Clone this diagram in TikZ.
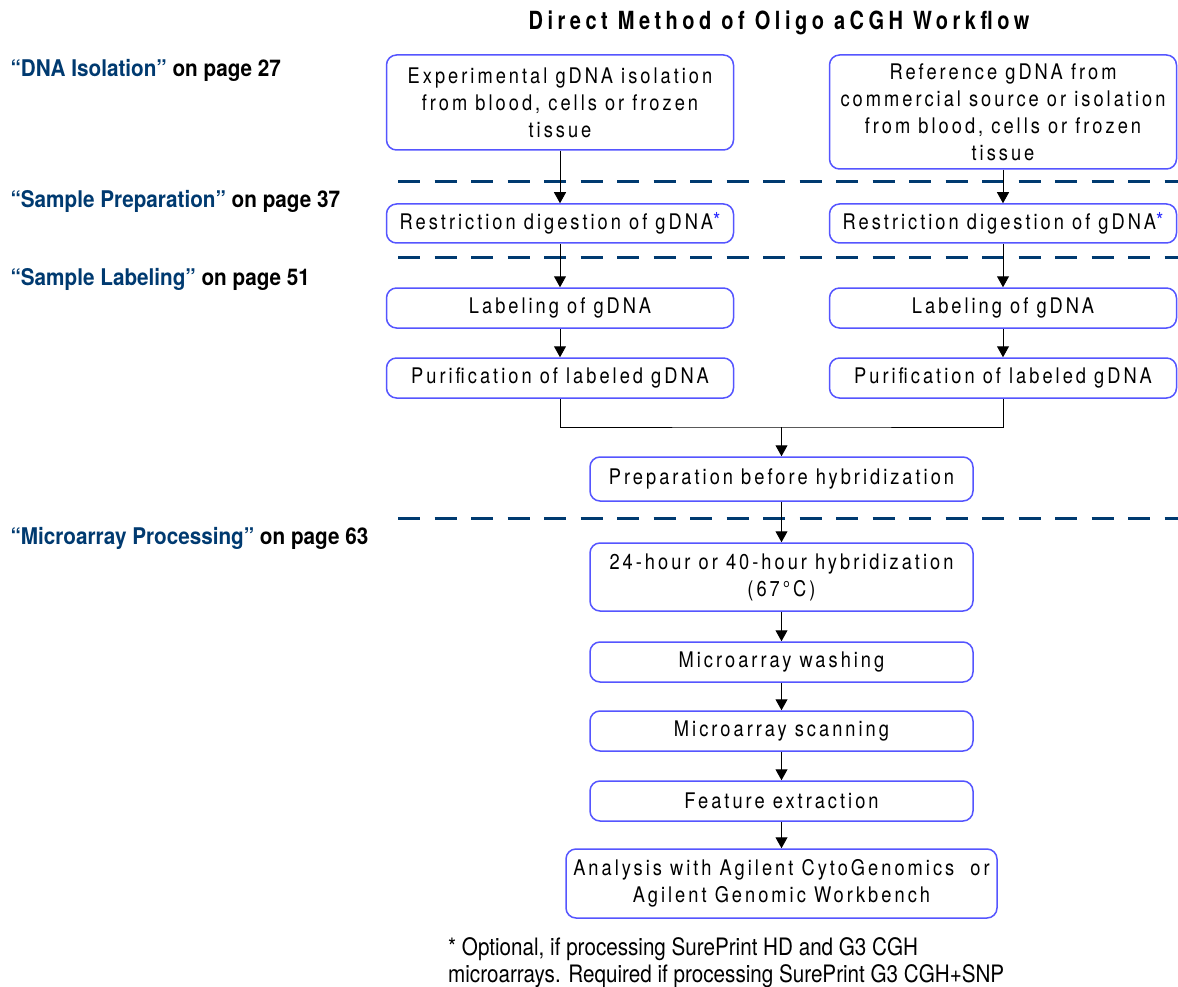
\documentclass[tikz,border=0pt]{standalone}
\usepackage{fontspec}
\usepackage{xcolor}
\usetikzlibrary{arrows.meta}

\setmainfont{TeX Gyre Heros}
\newfontfamily\boxfont{TeX Gyre Heros}[FakeStretch=0.85,LetterSpace=14]
\newfontfamily\headfont{TeX Gyre Heros}[FakeStretch=0.8,LetterSpace=18]
\newfontfamily\pagefont{TeX Gyre Heros}[FakeStretch=0.9]
\newfontfamily\notefont{TeX Gyre Heros}[FakeStretch=0.86]

\definecolor{navy}{RGB}{0,58,112}
\definecolor{edgeblue}{RGB}{85,85,255}
\definecolor{starblue}{RGB}{40,40,255}

\newcommand{\optmark}{\textcolor{starblue}{\raisebox{1pt}{\fontsize{22}{22}\selectfont *}}}

\begin{document}
\begin{tikzpicture}[x=1pt,y=-1pt,>={Triangle[length=11pt,width=12pt]},
    box/.style={draw=edgeblue,line width=1.5pt,rounded corners=10pt,align=center,
      inner sep=0pt,minimum height=40pt,font=\boxfont\fontsize{21.5}{27}\selectfont},
    side/.style={box,minimum width=347pt},
    mid/.style={box,minimum width=383pt},
    sep/.style={draw=navy,line width=3pt,dash pattern=on 22pt off 14.5pt},
    pageref/.style={anchor=base west,font=\pagefont\bfseries\fontsize{23}{26}\selectfont},
    flow/.style={->,line width=1pt}]
        \useasboundingbox (0,0) rectangle (1178,987);

        % title
        \node[anchor=base,font=\headfont\bfseries\fontsize{25}{28}\selectfont] (title) at (779,30)
          {Direct Method of Oligo aCGH Workflow};

        % chapter references
        \node[pageref] (refIso) at (7,77) {\textcolor{navy}{“DNA Isolation”} on page 27};
        \node[pageref] (refPrep) at (7,208) {\textcolor{navy}{“Sample Preparation”} on page 37};
        \node[pageref] (refLab) at (7,285) {\textcolor{navy}{“Sample Labeling”} on page 51};
        \node[pageref] (refProc) at (7,544) {\textcolor{navy}{“Microarray Processing”} on page 63};

        % section separators
        \coordinate (sepA1) at (398,182);  \coordinate (sepA2) at (1178,182);
        \coordinate (sepB1) at (398,257);  \coordinate (sepB2) at (1178,257);
        \coordinate (sepC1) at (398,518);  \coordinate (sepC2) at (1178,518);
        \draw[sep] (sepA1) -- (sepA2);
        \draw[sep] (sepB1) -- (sepB2);
        \draw[sep] (sepC1) -- (sepC2);

        % two sample columns
        \node[side,minimum height=95pt] (expIso) at (560,102.5)
          {Experimental gDNA isolation\\from blood, cells or frozen\\tissue};
        \node[side,minimum height=114pt] (refIsoBox) at (1003,112)
          {Reference gDNA from\\commercial source or isolation\\from blood, cells or frozen\\tissue};

        \node[side,minimum height=39pt] (expDig) at (560,223.5) {Restriction digestion of gDNA\optmark};
        \node[side,minimum height=39pt] (refDig) at (1003,223.5) {Restriction digestion of gDNA\optmark};

        \node[side] (expLab) at (560,308) {Labeling of gDNA};
        \node[side] (refLab2) at (1003,308) {Labeling of gDNA};

        \node[side] (expPur) at (560,378) {Purification of labeled gDNA};
        \node[side] (refPur) at (1003,378) {Purification of labeled gDNA};

        % common steps
        \node[mid,minimum height=44pt] (prepHyb) at (781.5,479) {Preparation before hybridization};
        \node[mid,minimum height=68pt] (hyb) at (781.5,577) {24-hour or 40-hour hybridization\\(67°C)};
        \node[mid] (wash) at (781.5,662) {Microarray washing};
        \node[mid] (scan) at (781.5,731) {Microarray scanning};
        \node[mid] (feat) at (781.5,801) {Feature extraction};
        \node[box,minimum width=431pt,minimum height=69pt] (anal) at (781.5,883.5)
          {Analysis with Agilent CytoGenomics~ or\\Agilent Genomic Workbench};

        % connectors
        \draw[flow] (expIso) -- (expDig);
        \draw[flow] (refIsoBox) -- (refDig);
        \draw[flow] (expDig) -- (expLab);
        \draw[flow] (refDig) -- (refLab2);
        \draw[flow] (expLab) -- (expPur);
        \draw[flow] (refLab2) -- (refPur);

        \coordinate (join) at (781.5,427);
        \draw[line width=1pt] (expPur) |- (join) -| (refPur);
        \draw[flow] (join) -- (prepHyb);
        \draw[flow] (prepHyb) -- (hyb);
        \draw[flow] (hyb) -- (wash);
        \draw[flow] (wash) -- (scan);
        \draw[flow] (scan) -- (feat);
        \draw[flow] (feat) -- (anal);

        % footnote (base is the last line)
        \node[anchor=base west,align=left,inner sep=0pt,font=\notefont\fontsize{24}{27}\selectfont] (note) at (448,982)
          {* Optional, if processing SurePrint HD and G3 CGH\\microarrays. Required if processing SurePrint G3 CGH+SNP};
\end{tikzpicture}
\end{document}
